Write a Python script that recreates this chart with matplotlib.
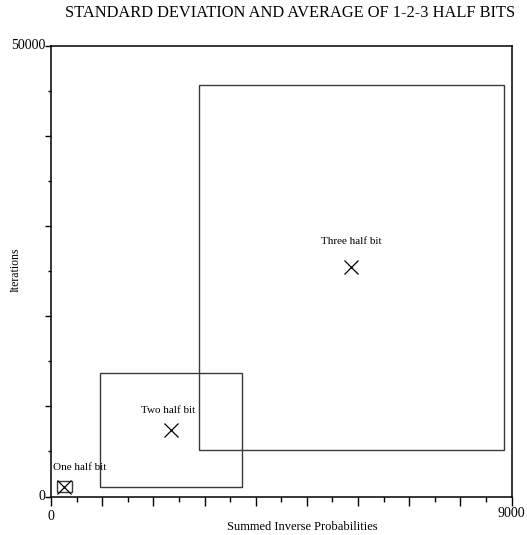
import matplotlib
matplotlib.use('Agg')
import matplotlib.pyplot as plt
from matplotlib.patches import Rectangle
from matplotlib.ticker import MultipleLocator

names = ['One half bit', 'Two half bit', 'Three half bit']
mean_x = [260, 2345, 5870]
mean_y = [1100, 7400, 25400]
std_x = [150, 1390, 2980]
std_y = [650, 6320, 20260]

plt.rcParams['font.family'] = ['Liberation Serif', 'DejaVu Serif']

fig = plt.figure(figsize=(5.27, 5.35), dpi=100)
ax = fig.add_axes([51/527, 1 - 496.5/535, 460.5/527, 451/535])

for mx, my, sx, sy in zip(mean_x, mean_y, std_x, std_y):
    ax.add_patch(Rectangle((mx - sx, my - sy), 2*sx, 2*sy, fill=False,
                           edgecolor='#3a3a3a', lw=1.0))
ax.plot(mean_x, mean_y, 'x', color='black', ms=10, mew=0.9, ls='none')

# label offsets (points) above each mean
offsets = [(11, 14), (-2, 14), (0, 19)]
for n, mx, my, off in zip(names, mean_x, mean_y, offsets):
    ax.annotate(n, (mx, my), xytext=off, textcoords='offset points',
                ha='center', va='center', fontsize=8)

ax.set_xlim(0, 9000)
ax.set_ylim(0, 50000)
for s in ax.spines.values():
    s.set_linewidth(1.1)

ax.xaxis.set_major_locator(MultipleLocator(1000))
ax.xaxis.set_minor_locator(MultipleLocator(500))
ax.yaxis.set_major_locator(MultipleLocator(10000))
ax.yaxis.set_minor_locator(MultipleLocator(5000))
ax.set_xticklabels([])
ax.set_yticklabels([])
ax.tick_params(axis='x', which='major', direction='out', length=6.5, width=1.0)
ax.tick_params(axis='x', which='minor', direction='out', length=3.5, width=1.0)
ax.tick_params(axis='y', which='major', direction='out', length=4.5, width=1.0)
ax.tick_params(axis='y', which='minor', direction='out', length=2, width=1.0)

# end labels only
ax.text(0, -0.03, '0', transform=ax.transAxes, ha='center', va='top', fontsize=10)
ax.text(1.0, -0.023, '9000', transform=ax.transAxes, ha='center', va='top', fontsize=10)
ax.text(-0.013, 0, '0', transform=ax.transAxes, ha='right', va='center', fontsize=10)
ax.text(-0.013, 1, '50000', transform=ax.transAxes, ha='right', va='center', fontsize=10)

fig.text(302/527, 1 - 527/535, 'Summed Inverse Probabilities',
         ha='center', va='center', fontsize=9)
fig.text(16/527, 1 - 270/535, 'Iterations', rotation=90,
         ha='center', va='center', fontsize=8.5)
fig.text(290/527, 1 - 13/535, 'STANDARD DEVIATION AND AVERAGE OF 1-2-3 HALF BITS',
         ha='center', va='center', fontsize=11.8)

fig.savefig('out.png', dpi=100)
